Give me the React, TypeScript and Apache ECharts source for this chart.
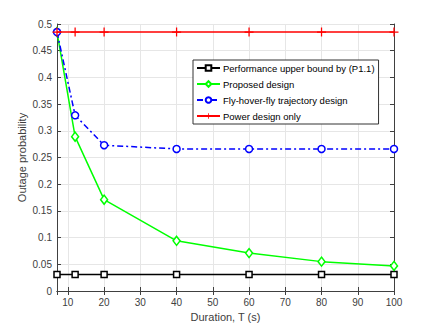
import React, { useEffect, useRef } from "react";
import * as echarts from "echarts";

const durations = [7, 12, 20, 40, 60, 80, 100];
const upperBound = [0.031, 0.031, 0.031, 0.031, 0.031, 0.031, 0.031];
const proposed = [0.485, 0.289, 0.171, 0.094, 0.071, 0.055, 0.047];
const flyHover = [0.485, 0.329, 0.273, 0.266, 0.266, 0.266, 0.266];
const powerOnly = [0.485, 0.485, 0.485, 0.485, 0.485, 0.485, 0.485];
const seriesNames = [
  "Performance upper bound by (P1.1)",
  "Proposed design",
  "Fly-hover-fly trajectory design",
  "Power design only",
];

const plus = "path://M4.3,0H5.7V4.3H10V5.7H5.7V10H4.3V5.7H0V4.3H4.3Z";
const FONT = "Liberation Sans, Arial, sans-serif";
const AX = "#404040";

function pairs(ys: number[]) {
  return durations.map((x, i) => [x, ys[i]]);
}

export default function App() {
  const ref = useRef<HTMLDivElement>(null);
  useEffect(() => {
    const chart = echarts.init(ref.current!, null, { renderer: "svg" });
    const xCommon = {
      type: "value",
      min: 7,
      max: 100,
      splitNumber: 9,
      axisLine: { show: true, lineStyle: { color: AX, width: 1 } },
      axisTick: { show: true, inside: true, length: 4, lineStyle: { color: AX } },
    };
    const yCommon = {
      type: "value",
      min: 0,
      max: 0.5,
      interval: 0.05,
      axisLine: { show: true, lineStyle: { color: AX, width: 1 } },
      axisTick: { show: true, inside: true, length: 4, lineStyle: { color: AX } },
    };
    chart.setOption({
      animation: false,
      backgroundColor: "#fff",
      textStyle: { fontFamily: FONT },
      grid: { left: 57, right: 42, top: 24, bottom: 36, containLabel: false },
      legend: {
        orient: "vertical",
        left: 193,
        top: 60,
        width: 183,
        padding: [3, 4, 3, 3],
        itemGap: 6,
        itemWidth: 23,
        itemHeight: 7,
        backgroundColor: "#fff",
        borderColor: "#333",
        borderWidth: 1,
        borderRadius: 0,
        textStyle: { fontSize: 9.5, color: "#000", fontFamily: FONT, padding: [0, 0, 0, -2] },
        data: seriesNames,
      },
      xAxis: [
        {
          ...xCommon,
          position: "bottom",
          name: "Duration, T (s)",
          nameLocation: "middle",
          nameGap: 20,
          nameMoveOverlap: false,
          nameTextStyle: { fontSize: 11, color: AX, fontFamily: FONT },
          axisLabel: {
            fontSize: 10,
            color: AX,
            margin: 6,
            fontFamily: FONT,
            formatter: (v: number) => (v % 10 === 0 ? String(v) : ""),
          },
          splitLine: { show: true, lineStyle: { color: "#e6e6e6", width: 1 } },
        },
        {
          ...xCommon,
          position: "top",
          axisLabel: { show: false },
          splitLine: { show: false },
        },
      ],
      yAxis: [
        {
          ...yCommon,
          position: "left",
          name: "Outage probability",
          nameLocation: "middle",
          nameGap: 30,
          nameMoveOverlap: false,
          nameTextStyle: { fontSize: 11, color: AX, fontFamily: FONT },
          axisLabel: { fontSize: 10, color: AX, margin: 5, fontFamily: FONT },
          splitLine: { show: true, lineStyle: { color: "#e6e6e6", width: 1 } },
        },
        {
          ...yCommon,
          position: "right",
          axisLabel: { show: false },
          splitLine: { show: false },
        },
      ],
      series: [
        {
          name: seriesNames[0],
          type: "line",
          data: pairs(upperBound),
          symbol: "rect",
          symbolSize: 6,
          showAllSymbol: true,
          lineStyle: { color: "#000", width: 1.5 },
          itemStyle: { color: "#fff", borderColor: "#000", borderWidth: 1.5 },
          z: 3,
        },
        {
          name: seriesNames[1],
          type: "line",
          data: pairs(proposed),
          symbol: "diamond",
          symbolSize: [7, 9],
          showAllSymbol: true,
          lineStyle: { color: "#00ff00", width: 1.5 },
          itemStyle: { color: "#fff", borderColor: "#00ff00", borderWidth: 1.5 },
          z: 4,
        },
        {
          name: seriesNames[2],
          type: "line",
          data: pairs(flyHover),
          symbol: "circle",
          symbolSize: 7,
          showAllSymbol: true,
          lineStyle: { color: "#0000ff", width: 1.5, type: [6, 3, 2, 3] },
          itemStyle: { color: "#fff", borderColor: "#0000ff", borderWidth: 1.5 },
          z: 5,
        },
        {
          name: seriesNames[3],
          type: "line",
          data: pairs(powerOnly),
          symbol: plus,
          symbolSize: 9,
          showAllSymbol: true,
          lineStyle: { color: "#ff0000", width: 1.5 },
          itemStyle: { color: "#ff0000" },
          z: 6,
        },
      ],
    });
    return () => chart.dispose();
  }, []);
  return (
    <div
      ref={ref}
      style={{ position: "absolute", left: 0, top: 0, width: 436, height: 327 }}
    />
  );
}
